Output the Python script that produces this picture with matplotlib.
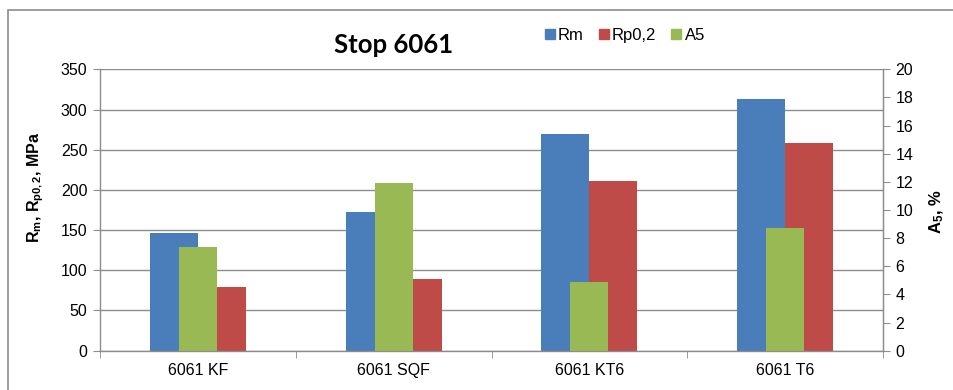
import matplotlib
matplotlib.use("Agg")
import matplotlib.pyplot as plt
import numpy as np
from matplotlib.patches import Rectangle
from matplotlib.lines import Line2D

# Alloy 6061 states and measured mechanical properties
categories = ["6061 KF", "6061 SQF", "6061 KT6", "6061 T6"]
rm = [147, 172, 269, 313]        # tensile strength, MPa
rp02 = [79, 89, 211, 258]        # yield strength, MPa
a5 = [7.35, 11.95, 4.9, 8.75]    # elongation, %

C_BLUE = "#4A7EBB"
C_RED = "#BE4B48"
C_GREEN = "#98B954"
C_GRID = "#8C8C8C"

plt.rcParams["font.family"] = ["Liberation Sans", "DejaVu Sans"]
plt.rcParams["mathtext.fontset"] = "custom"
plt.rcParams["mathtext.rm"] = "Liberation Sans"
plt.rcParams["mathtext.bf"] = "Liberation Sans:bold"
plt.rcParams["mathtext.it"] = "Liberation Sans:italic"

fig = plt.figure(figsize=(9.54, 3.90), dpi=100)
ax = fig.add_axes([0.1048, 0.1008, 0.8208, 0.7215])

x = np.arange(len(categories))
w = 0.245
ax.bar(x - w, rm, width=w, align="edge", color=C_BLUE, zorder=2, label="Rm")
ax.bar(x, rp02, width=w, align="edge", color=C_RED, zorder=2, label="Rp0,2")

ax.set_xlim(-0.5, len(categories) - 0.5)
ax.set_ylim(0, 350)
ax.set_yticks(np.arange(0, 351, 50))
ax.yaxis.grid(True, color=C_GRID, linewidth=1.0, zorder=0)
ax.set_axisbelow(True)

ax.set_xticks(x)
ax.set_xticklabels(categories, fontsize=11.5)
ax.set_xticks(np.arange(-0.5, len(categories), 1.0), minor=True)
ax.tick_params(axis="x", which="major", length=0, pad=9)
ax.tick_params(axis="x", which="minor", length=5, color=C_GRID, direction="out")
ax.tick_params(axis="y", labelsize=11.5, length=5, color=C_GRID, pad=4)

ax.spines["top"].set_visible(False)
for side in ["left", "bottom", "right"]:
    ax.spines[side].set_color(C_GRID)
    ax.spines[side].set_linewidth(1.0)

# Elongation on the secondary axis, drawn in front of the strength bars
ax2 = ax.twinx()
ax2.bar(x, a5, width=0.195, color=C_GREEN, zorder=3, label="A5")
ax2.set_ylim(0, 20)
ax2.set_yticks(np.arange(0, 21, 2))
ax2.tick_params(axis="y", labelsize=11.5, length=5, color=C_GRID, pad=4)
for side in ["top", "left", "bottom"]:
    ax2.spines[side].set_visible(False)
ax2.spines["right"].set_color(C_GRID)

# Axis titles
fig.text(0.037, 0.52, r"$\mathbf{R_m}$, $\mathbf{R_{p0,2}}$, MPa", rotation=90,
         ha="center", va="center", fontsize=11.5, fontweight="bold")
fig.text(0.982, 0.456, r"$\mathbf{A_5}$, %", rotation=90,
         ha="center", va="center", fontsize=12, fontweight="bold")

fig.text(0.413, 0.885, "Stop 6061", ha="center", va="center",
         fontsize=18.5, fontweight="bold", family=["Lato", "DejaVu Sans"])

handles = [Line2D([], [], marker="s", linestyle="none", markersize=6.5, color=c)
           for c in (C_BLUE, C_RED, C_GREEN)]
fig.legend(handles, ["Rm", "Rp0,2", "A5"], ncol=3, frameon=False,
           loc="center", bbox_to_anchor=(0.655, 0.91), fontsize=12,
           handlelength=0.6, handletextpad=0.2, columnspacing=0.9)

# Chart frame
fig.patches.append(Rectangle((8 / 954, -0.02), 1.05, 1 - 9.5 / 390 + 0.02,
                             transform=fig.transFigure, fill=False,
                             edgecolor="#8C8C8C", linewidth=1.2))

fig.savefig("out.png", dpi=100)
